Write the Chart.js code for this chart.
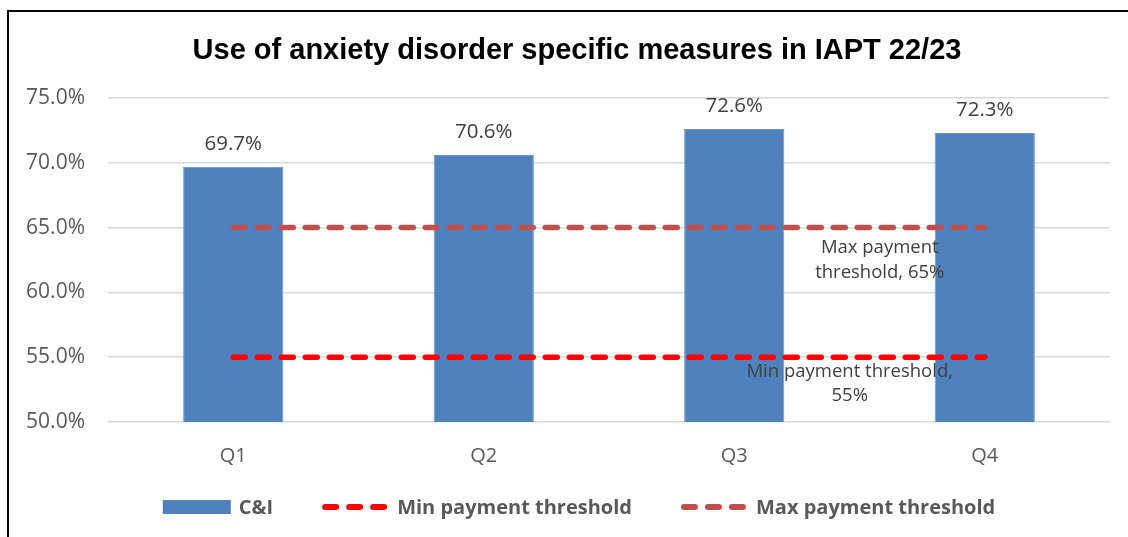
<!DOCTYPE html>
<html>
<head>
<meta charset="UTF-8">
<title>Anxiety disorder specific measures</title>
<script src="https://cdn.jsdelivr.net/npm/chart.js@4.4.0/dist/chart.umd.min.js"></script>
<style>
  body { margin: 0; overflow: hidden; background: #fff; }
  #frame {
    position: absolute; left: 7px; top: 10px;
    width: 1140px; height: 540px;
    border-left: 2px solid #000; border-top: 2px solid #000;
  }
</style>
</head>
<body>
<div id="frame"><canvas id="myChart" width="1136" height="525"></canvas></div>

<script>
const quarters = ['Q1', 'Q2', 'Q3', 'Q4'];
const ciValues = [69.7, 70.6, 72.6, 72.3];
const minThreshold = [55, 55, 55, 55];
const maxThreshold = [65, 65, 65, 65];
const yMin = 50, yMax = 75, yStep = 5;

const chartTitle = 'Use of anxiety disorder specific measures in IAPT 22/23';
const maxNote = ['Max payment', 'threshold, 65%'];
const minNote = ['Min payment threshold,', '55%'];

const FONT = "'Open Sans', sans-serif";

// value labels above the bars
const barLabels = {
  id: 'barLabels',
  afterDatasetsDraw(chart) {
    const ctx = chart.ctx;
    const meta = chart.getDatasetMeta(2);
    ctx.save();
    ctx.font = '20.5px ' + FONT;
    ctx.fillStyle = '#404040';
    ctx.textAlign = 'center';
    ctx.textBaseline = 'alphabetic';
    meta.data.forEach((bar, i) => {
      ctx.fillText(ciValues[i].toFixed(1) + '%', bar.x, bar.y - 17);
    });
    ctx.restore();
  }
};

// threshold notes next to the last point of each line
const thresholdNotes = {
  id: 'thresholdNotes',
  afterDatasetsDraw(chart) {
    const ctx = chart.ctx;
    const x = chart.scales.x, y = chart.scales.y;
    const last = quarters.length - 1;
    ctx.save();
    ctx.font = '18.5px ' + FONT;
    ctx.fillStyle = '#404040';
    ctx.textAlign = 'center';
    ctx.textBaseline = 'alphabetic';
    const mx = x.getPixelForValue(last) - 105, my = y.getPixelForValue(maxThreshold[last]);
    maxNote.forEach((t, i) => ctx.fillText(t, mx, my + 25 + i * 25));
    const nx = x.getPixelForValue(last) - 135, ny = y.getPixelForValue(minThreshold[last]);
    minNote.forEach((t, i) => ctx.fillText(t, nx, ny + 20 + i * 24));
    ctx.restore();
  }
};

// title and legend drawn by hand so the dashed lines show as lines
const titleAndLegend = {
  id: 'titleAndLegend',
  afterDraw(chart) {
    const ctx = chart.ctx;
    const cx = chart.width / 2;
    ctx.save();
    ctx.font = 'bold 29px "Liberation Sans", Arial, sans-serif';
    ctx.fillStyle = '#000';
    ctx.textAlign = 'center';
    ctx.textBaseline = 'middle';
    ctx.fillText(chartTitle, cx, 39);

    ctx.font = 'bold 20px ' + FONT;
    ctx.textAlign = 'left';
    ctx.textBaseline = 'alphabetic';
    const items = chart.data.datasets.slice().sort((a, b) => a.legendPos - b.legendPos);
    const sym = 68, gap = 8, itemGap = 48;
    let total = 0;
    items.forEach((d, i) => {
      total += sym + gap + ctx.measureText(d.label).width + (i ? itemGap : 0);
    });
    let lx = cx - total / 2 + 2;
    const ly = 495;
    items.forEach(d => {
      if (d.type === 'bar') {
        ctx.fillStyle = d.backgroundColor;
        ctx.fillRect(lx, ly - 7, sym, 14);
      } else {
        ctx.strokeStyle = d.borderColor;
        ctx.lineWidth = 6;
        ctx.lineCap = 'round';
        ctx.setLineDash([11, 13]);
        ctx.beginPath();
        ctx.moveTo(lx + 4, ly);
        ctx.lineTo(lx + sym, ly);
        ctx.stroke();
        ctx.setLineDash([]);
      }
      ctx.fillStyle = '#595959';
      ctx.fillText(d.label, lx + sym + gap, ly + 7);
      lx += sym + gap + ctx.measureText(d.label).width + itemGap;
    });
    ctx.restore();
  }
};

new Chart('myChart', {
  data: {
    labels: quarters,
    datasets: [
      {
        type: 'line', label: 'Min payment threshold', data: minThreshold,
        borderColor: '#FF0000', borderWidth: 5.5, borderDash: [12, 12],
        borderCapStyle: 'round', pointRadius: 0, fill: false, order: 1, legendPos: 1
      },
      {
        type: 'line', label: 'Max payment threshold', data: maxThreshold,
        borderColor: '#C0504D', borderWidth: 5.5, borderDash: [12, 12],
        borderCapStyle: 'round', pointRadius: 0, fill: false, order: 1, legendPos: 2
      },
      {
        type: 'bar', label: 'C&I', data: ciValues,
        backgroundColor: '#4F81BD', borderColor: '#6a94c8', borderWidth: 1,
        barPercentage: 0.4, categoryPercentage: 1, order: 2, legendPos: 0
      }
    ]
  },
  options: {
    responsive: false,
    animation: false,
    layout: { padding: { top: 86, right: 35, bottom: 0, left: 0 } },
    plugins: { legend: { display: false }, tooltip: { enabled: false } },
    scales: {
      x: {
        grid: { display: false },
        border: { display: false },
        ticks: { color: '#595959', font: { family: FONT, size: 20 }, padding: 14 },
        afterFit(scale) { scale.height = 115; }
      },
      y: {
        min: yMin, max: yMax,
        grid: { color: '#d9d9d9', lineWidth: 1.5, drawTicks: false },
        border: { display: false },
        ticks: {
          stepSize: yStep, color: '#595959', padding: 23,
          font: { family: FONT, size: 21 },
          callback: v => v.toFixed(1) + '%'
        },
        afterFit(scale) { scale.width = 99; }
      }
    }
  },
  plugins: [barLabels, thresholdNotes, titleAndLegend]
});
</script>
</body>
</html>
